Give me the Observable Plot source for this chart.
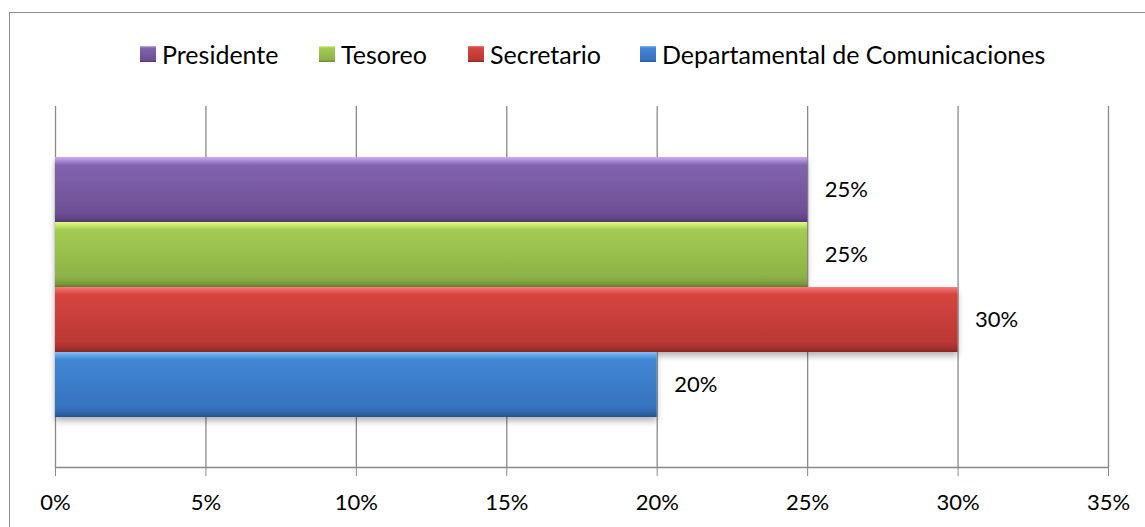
<!DOCTYPE html>
<html>
<head>
<meta charset="utf-8">
<script src="https://cdn.jsdelivr.net/npm/d3@7"></script>
<script src="https://cdn.jsdelivr.net/npm/@observablehq/plot@0.6"></script>
<style>
  html, body { margin: 0; padding: 0; background: #fff; }
  #wrap { position: relative; width: 1145px; height: 527px; overflow: hidden; font-family: Lato, "Liberation Sans", sans-serif; }
  #border { position: absolute; left: 9px; top: 12px; width: 1300px; height: 700px; border: 1.5px solid #8c8c8c; box-sizing: border-box; }
  #chart { position: absolute; left: 0; top: 0; }
  #legend { position: absolute; left: 0; top: 0; width: 1145px; height: 100px; font-size: 25px; color: #000; }
  .item { position: absolute; top: 38px; height: 32px; display: flex; align-items: center; gap: 6px; white-space: nowrap; }
  .sw { width: 16px; height: 16px; display: block; }
  .sw svg { display: block; }
</style>
</head>
<body>
<svg width="0" height="0" style="position:absolute">
  <defs>
    <linearGradient id="g0" x1="0" y1="0" x2="0" y2="1">
      <stop offset="0" stop-color="#c9aef2"/><stop offset="0.04" stop-color="#b497e0"/>
      <stop offset="0.12" stop-color="#8264ae"/><stop offset="0.85" stop-color="#6d4f95"/>
      <stop offset="0.95" stop-color="#5e4383"/><stop offset="1" stop-color="#4f376f"/>
    </linearGradient>
    <linearGradient id="g1" x1="0" y1="0" x2="0" y2="1">
      <stop offset="0" stop-color="#e6fb8e"/><stop offset="0.04" stop-color="#cdec70"/>
      <stop offset="0.12" stop-color="#a3cc53"/><stop offset="0.85" stop-color="#8db146"/>
      <stop offset="0.95" stop-color="#78993b"/><stop offset="1" stop-color="#627f30"/>
    </linearGradient>
    <linearGradient id="g2" x1="0" y1="0" x2="0" y2="1">
      <stop offset="0" stop-color="#fb7f7b"/><stop offset="0.04" stop-color="#ec6461"/>
      <stop offset="0.12" stop-color="#d5453f"/><stop offset="0.85" stop-color="#ba3834"/>
      <stop offset="0.95" stop-color="#a12f2c"/><stop offset="1" stop-color="#862522"/>
    </linearGradient>
    <linearGradient id="g3" x1="0" y1="0" x2="0" y2="1">
      <stop offset="0" stop-color="#86c1f6"/><stop offset="0.04" stop-color="#6aa8ea"/>
      <stop offset="0.12" stop-color="#4287d4"/><stop offset="0.85" stop-color="#3672bd"/>
      <stop offset="0.95" stop-color="#2d62a6"/><stop offset="1" stop-color="#25518b"/>
    </linearGradient>
    <filter id="shadow" x="-5%" y="-20%" width="110%" height="160%">
      <feDropShadow dx="0" dy="4" stdDeviation="3" flood-color="#000" flood-opacity="0.3"/>
    </filter>
  </defs>
</svg>
<div id="wrap">
  <div id="border"></div>
  <div id="chart"></div>
  <div id="legend"></div>
</div>
<script>
const categories = ["Presidente", "Tesoreo", "Secretario", "Departamental de Comunicaciones"];
const values = [25, 25, 30, 20];
const gradients = ["url(#g0)", "url(#g1)", "url(#g2)", "url(#g3)"];
const xTicks = [0, 5, 10, 15, 20, 25, 30, 35];

const data = categories.map((c, i) => ({name: c, value: values[i], fill: gradients[i]}));

const font = 'Lato, "Liberation Sans", sans-serif';

const marks = [
  Plot.gridX(xTicks, {stroke: "#8a8a8a", strokeOpacity: 1, strokeWidth: 1.3}),
  Plot.frame({anchor: "bottom", stroke: "#8a8a8a", strokeWidth: 1.3}),
  Plot.axisX({ticks: xTicks, tickFormat: d => d + "%", tickSize: 9, tickPadding: 18, stroke: "#8a8a8a", fill: "#000", fontSize: 22, label: null}),
  ...data.map(d => Plot.barX([d], {x: "value", y: "name", fill: d.fill, inset: 0})),
  Plot.text(data, {x: "value", y: "name", text: d => d.value + "%", textAnchor: "start", dx: 17, fontSize: 22, fill: "#000"})
];

const chart = Plot.plot({
  width: 1145,
  height: 527,
  marginLeft: 55,
  marginRight: 37,
  marginTop: 106,
  marginBottom: 60,
  style: {fontFamily: font, fontSize: "22px", background: "transparent", overflow: "visible"},
  x: {domain: [0, 35], axis: null},
  y: {domain: categories, axis: null, paddingInner: 0, paddingOuter: 0.735},
  marks
});
chart.querySelectorAll('g[aria-label="bar"]').forEach(g => g.setAttribute("filter", "url(#shadow)"));
document.getElementById("chart").appendChild(chart);

// legend layout (left edge of each swatch)
const legendLeft = [140, 319, 468, 640];
const legend = document.getElementById("legend");
data.forEach((d, i) => {
  const item = document.createElement("div");
  item.className = "item";
  item.style.left = legendLeft[i] + "px";
  const sw = document.createElement("div");
  sw.className = "sw";
  sw.innerHTML = `<svg width="16" height="16"><rect width="16" height="16" fill="${d.fill}"/></svg>`;
  const t = document.createElement("span");
  t.textContent = d.name;
  item.appendChild(sw);
  item.appendChild(t);
  legend.appendChild(item);
});
</script>
</body>
</html>
